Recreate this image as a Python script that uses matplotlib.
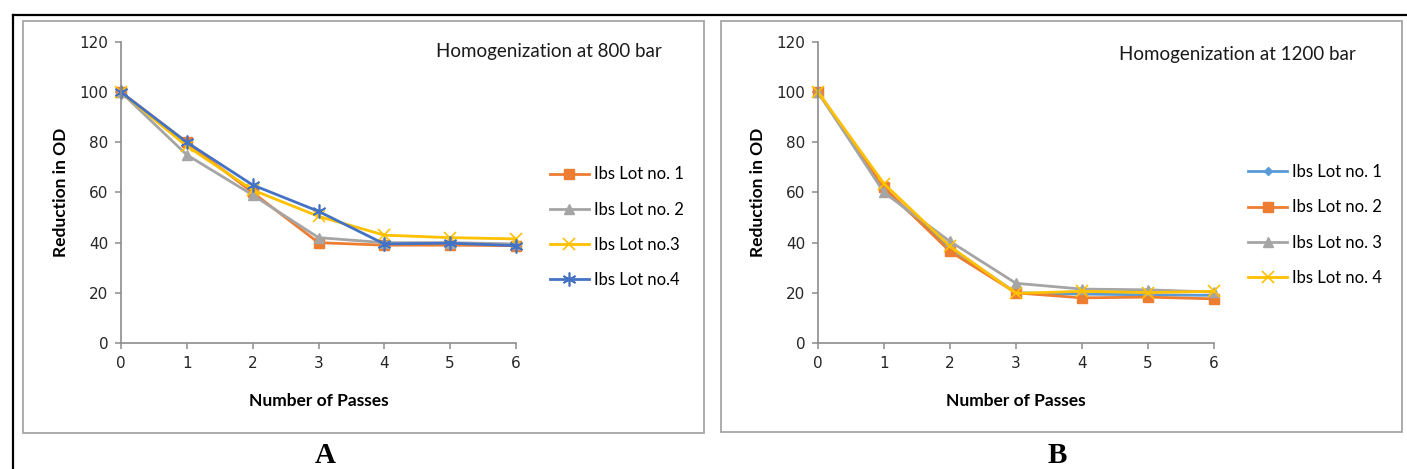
import matplotlib
matplotlib.use('Agg')
import matplotlib.pyplot as plt
import matplotlib.patches as mpatches

passes = [0, 1, 2, 3, 4, 5, 6]

# panel A - homogenization at 800 bar
a_lot1 = [100, 80, 60, 40, 39, 39, 38.8]
a_lot2 = [100, 75, 59, 42, 40, 40, 39.5]
a_lot3 = [100, 78.5, 61, 50.5, 43, 42, 41.5]
a_lot4 = [100, 80, 63, 52.5, 39.5, 39.8, 38.8]
a_labels = ['Ibs Lot no. 1', 'Ibs Lot no. 2', 'Ibs Lot no.3', 'Ibs Lot no.4']

# panel B - homogenization at 1200 bar
b_lot1 = [100, 61, 38, 20, 19.5, 19.2, 19]
b_lot2 = [100, 62, 36.5, 20, 18, 18.3, 17.6]
b_lot3 = [100, 60, 40.5, 23.8, 21.5, 21.2, 20.3]
b_lot4 = [100, 63.5, 38.5, 19.8, 20.6, 20.1, 20.6]
b_labels = ['Ibs Lot no. 1', 'Ibs Lot no. 2', 'Ibs Lot no. 3', 'Ibs Lot no. 4']

W, H = 1407, 469
ORANGE = '#ED7D31'
GRAY = '#A5A5A5'
YELLOW = '#FFC000'
BLUE = '#4472C4'
LBLUE = '#5B9BD5'
AXCOL = '#8C8C8C'
TXT = 'Lato'


def px_rect(x0, y0, x1, y1):
    # pixel box (top-left origin) -> figure fraction rect
    return [x0 / W, 1 - y1 / H, (x1 - x0) / W, (y1 - y0) / H]


fig = plt.figure(figsize=(W / 100, H / 100), dpi=100)

# outer black frame lines and gray chart boxes
fig.add_artist(plt.Line2D([13 / W, 13 / W], [0, 1 - 15 / H], color='black', lw=1.6, transform=fig.transFigure))
fig.add_artist(plt.Line2D([13 / W, 1], [1 - 15 / H, 1 - 15 / H], color='black', lw=1.6, transform=fig.transFigure))
for box in [(23, 21, 704, 433), (721, 21, 1402, 432)]:
    r = px_rect(*box)
    fig.add_artist(mpatches.Rectangle((r[0], r[1]), r[2], r[3], fill=False,
                                      ec='#A6A6A6', lw=1.3, transform=fig.transFigure))


def setup_axes(ax):
    ax.set_xlim(0, 6)
    ax.set_ylim(0, 120)
    ax.set_xticks(passes)
    ax.set_yticks(range(0, 121, 20))
    for s in ['top', 'right']:
        ax.spines[s].set_visible(False)
    for s in ['left', 'bottom']:
        ax.spines[s].set_color(AXCOL)
        ax.spines[s].set_linewidth(1.2)
    ax.tick_params(direction='out', length=4, width=1.1, color=AXCOL,
                   labelsize=11, labelcolor='#262626', pad=5)
    for lab in ax.get_xticklabels() + ax.get_yticklabels():
        lab.set_fontfamily('DejaVu Sans')
    ax.set_xlabel('Number of Passes', fontfamily=TXT, fontweight='bold', fontsize=12.5, labelpad=16)
    ax.set_ylabel('Reduction in OD', fontfamily=TXT, fontweight='bold', fontsize=12.5, labelpad=8)
    for l in ax.get_lines():
        l.set_clip_on(False)


lw = 2.0
leg_opts = dict(loc='center left', frameon=False, prop={'family': TXT, 'size': 12},
                handlelength=2.3, handletextpad=0.3, labelspacing=1.15, borderaxespad=0)

ax1 = fig.add_axes(px_rect(121, 42, 516, 343))
ax1.plot(passes, a_lot1, color=ORANGE, lw=lw, marker='s', ms=7, label=a_labels[0])
ax1.plot(passes, a_lot2, color=GRAY, lw=lw, marker='^', ms=7.5, label=a_labels[1])
ax1.plot(passes, a_lot3, color=YELLOW, lw=lw, marker='x', ms=8.5, mew=1.2, label=a_labels[2])
ax1.plot(passes, a_lot4, color=BLUE, lw=lw, marker=(6, 2, 0), ms=10, mew=1.2, label=a_labels[3])
setup_axes(ax1)
ax1.text(1.083, 0.967, 'Homogenization at 800 bar', transform=ax1.transAxes, ha='center',
         va='center', fontfamily=TXT, fontsize=13.5, color='#1a1a1a')
ax1.legend(bbox_to_anchor=(1.07, 0.385), **leg_opts)

ax2 = fig.add_axes(px_rect(818, 42, 1214, 343))
ax2.plot(passes, b_lot1, color=LBLUE, lw=lw, marker='D', ms=4.5, label=b_labels[0])
ax2.plot(passes, b_lot2, color=ORANGE, lw=lw, marker='s', ms=7, label=b_labels[1])
ax2.plot(passes, b_lot3, color=GRAY, lw=lw, marker='^', ms=7.5, label=b_labels[2])
ax2.plot(passes, b_lot4, color=YELLOW, lw=lw, marker='x', ms=8.5, mew=1.2, label=b_labels[3])
setup_axes(ax2)
ax2.text(1.058, 0.957, 'Homogenization at 1200 bar', transform=ax2.transAxes, ha='center',
         va='center', fontfamily=TXT, fontsize=13.5, color='#1a1a1a')
ax2.legend(bbox_to_anchor=(1.07, 0.392), **leg_opts)

fig.text(325 / W, 1 - 463 / H, 'A', ha='center', va='baseline', fontfamily='Liberation Serif',
         fontweight='bold', fontsize=21)
fig.text(1057 / W, 1 - 463 / H, 'B', ha='center', va='baseline', fontfamily='Liberation Serif',
         fontweight='bold', fontsize=21)

fig.savefig('out.png', dpi=100)
